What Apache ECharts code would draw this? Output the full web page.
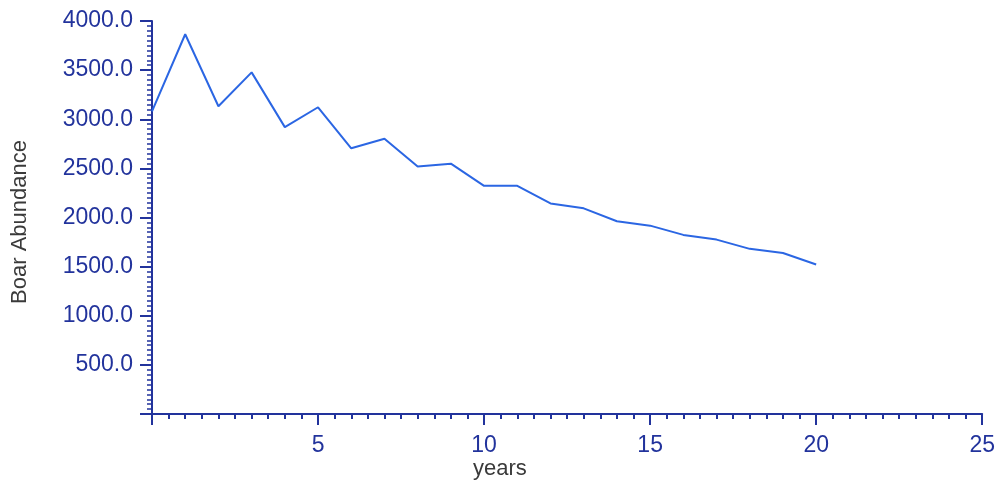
<!DOCTYPE html>
<html>
<head>
<meta charset="utf-8">
<script src="https://cdn.jsdelivr.net/npm/echarts@6/dist/echarts.min.js"></script>
<style>
html,body{margin:0;padding:0;background:#ffffff;}
#chart{width:998px;height:489px;}
</style>
</head>
<body>
<div id="chart"></div>
<script>
var years = [0,1,2,3,4,5,6,7,8,9,10,11,12,13,14,15,16,17,18,19,20];
var abundance = [3080,3865,3132,3477,2920,3122,2704,2802,2518,2548,2322,2322,2143,2093,1962,1917,1823,1775,1681,1638,1522];
var xTicks = [0,5,10,15,20,25];
var yTicks = [0,500,1000,1500,2000,2500,3000,3500,4000];
var xName = 'years';
var yName = 'Boar Abundance';

var axisBlue = '#22339c';
var lineBlue = '#2b66e3';
var font = 'Liberation Sans, Arial, sans-serif';

var chart = echarts.init(document.getElementById('chart'));
chart.setOption({
  backgroundColor: '#ffffff',
  animation: false,
  grid: {left: 152, right: 15, top: 21, bottom: 75},
  xAxis: {
    type: 'value',
    min: xTicks[0], max: xTicks[xTicks.length-1], interval: 5,
    axisLine: {show: true, lineStyle: {color: axisBlue, width: 2}},
    axisTick: {show: true, length: 11, lineStyle: {color: axisBlue, width: 2}},
    minorTick: {show: true, splitNumber: 10, length: 5, lineStyle: {color: axisBlue, width: 2}},
    splitLine: {show: false},
    axisLabel: {color: axisBlue, fontSize: 23, fontFamily: font, margin: 20, showMinLabel: false}
  },
  yAxis: {
    type: 'value',
    min: yTicks[0], max: yTicks[yTicks.length-1], interval: 500,
    axisLine: {show: true, lineStyle: {color: axisBlue, width: 2}},
    axisTick: {show: true, length: 12, lineStyle: {color: axisBlue, width: 2}},
    minorTick: {show: true, splitNumber: 10, length: 5, lineStyle: {color: axisBlue, width: 1.5}},
    splitLine: {show: false},
    axisLabel: {color: axisBlue, fontSize: 23, fontFamily: font, margin: 19, showMinLabel: false,
      formatter: function(v){ return v.toFixed(1); }}
  },
  graphic: [
    {type: 'text', left: 473, top: 458, style: {text: xName, fill: '#3a3a3a', fontSize: 22, fontFamily: font}},
    {type: 'text', x: 9, y: 222, rotation: Math.PI/2,
      style: {text: yName, fill: '#3a3a3a', fontSize: 22, fontFamily: font, align: 'center', verticalAlign: 'top'}}
  ],
  series: [{
    type: 'line',
    data: years.map(function(y, i){ return [y, abundance[i]]; }),
    showSymbol: false,
    lineStyle: {color: lineBlue, width: 2},
    itemStyle: {color: lineBlue}
  }]
});
</script>
</body>
</html>
